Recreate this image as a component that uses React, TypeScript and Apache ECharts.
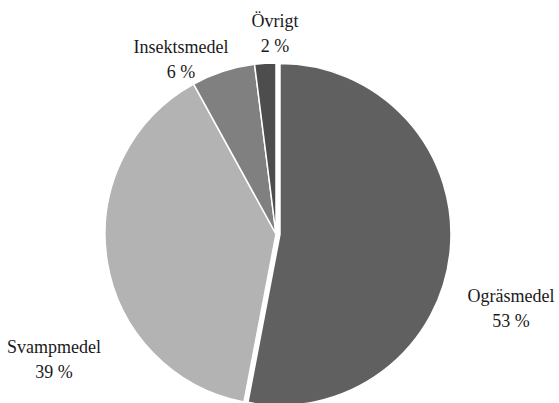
import React, { useEffect, useRef } from "react";
import * as echarts from "echarts";

const categories = ["Ogräsmedel", "Svampmedel", "Insektsmedel", "Övrigt"];
const values = [53, 39, 6, 2];
const colors = ["#606060", "#b3b3b3", "#808080", "#4d4d4d"];
const labelPos = [
  [511, 308],
  [54, 359],
  [181, 59],
  [275, 33],
];

export default function App() {
  const ref = useRef<HTMLDivElement>(null);
  useEffect(() => {
    if (!ref.current) return;
    const chart = echarts.init(ref.current, null, { renderer: "svg" });
    const total = values.reduce((a, b) => a + b, 0);
    chart.setOption({
      animation: false,
      backgroundColor: "#ffffff",
      graphic: categories.map((c, i) => ({
        type: "text",
        x: labelPos[i][0],
        y: labelPos[i][1],
        silent: true,
        style: {
          text: `${c}\n${Math.round((values[i] / total) * 100)} %`,
          fontFamily: "Liberation Serif",
          fontSize: 18,
          lineHeight: 25,
          fill: "#1a1a1a",
          align: "center",
          verticalAlign: "middle",
        },
      })),
      series: [
        {
          type: "pie",
          center: [276, 234],
          radius: 171,
          startAngle: 90,
          clockwise: true,
          selectedMode: "single",
          selectedOffset: 4,
          itemStyle: { borderColor: "#ffffff", borderWidth: 1.5 },
          emphasis: { disabled: true },
          label: { show: false },
          labelLine: { show: false },
          data: categories.map((c, i) => ({
            name: c,
            value: values[i],
            selected: i === 0,
            itemStyle: { color: colors[i] },
          })),
        },
      ],
    });
    return () => chart.dispose();
  }, []);
  return (
    <div
      ref={ref}
      style={{ position: "fixed", left: 0, top: 0, width: 559, height: 403 }}
    />
  );
}
